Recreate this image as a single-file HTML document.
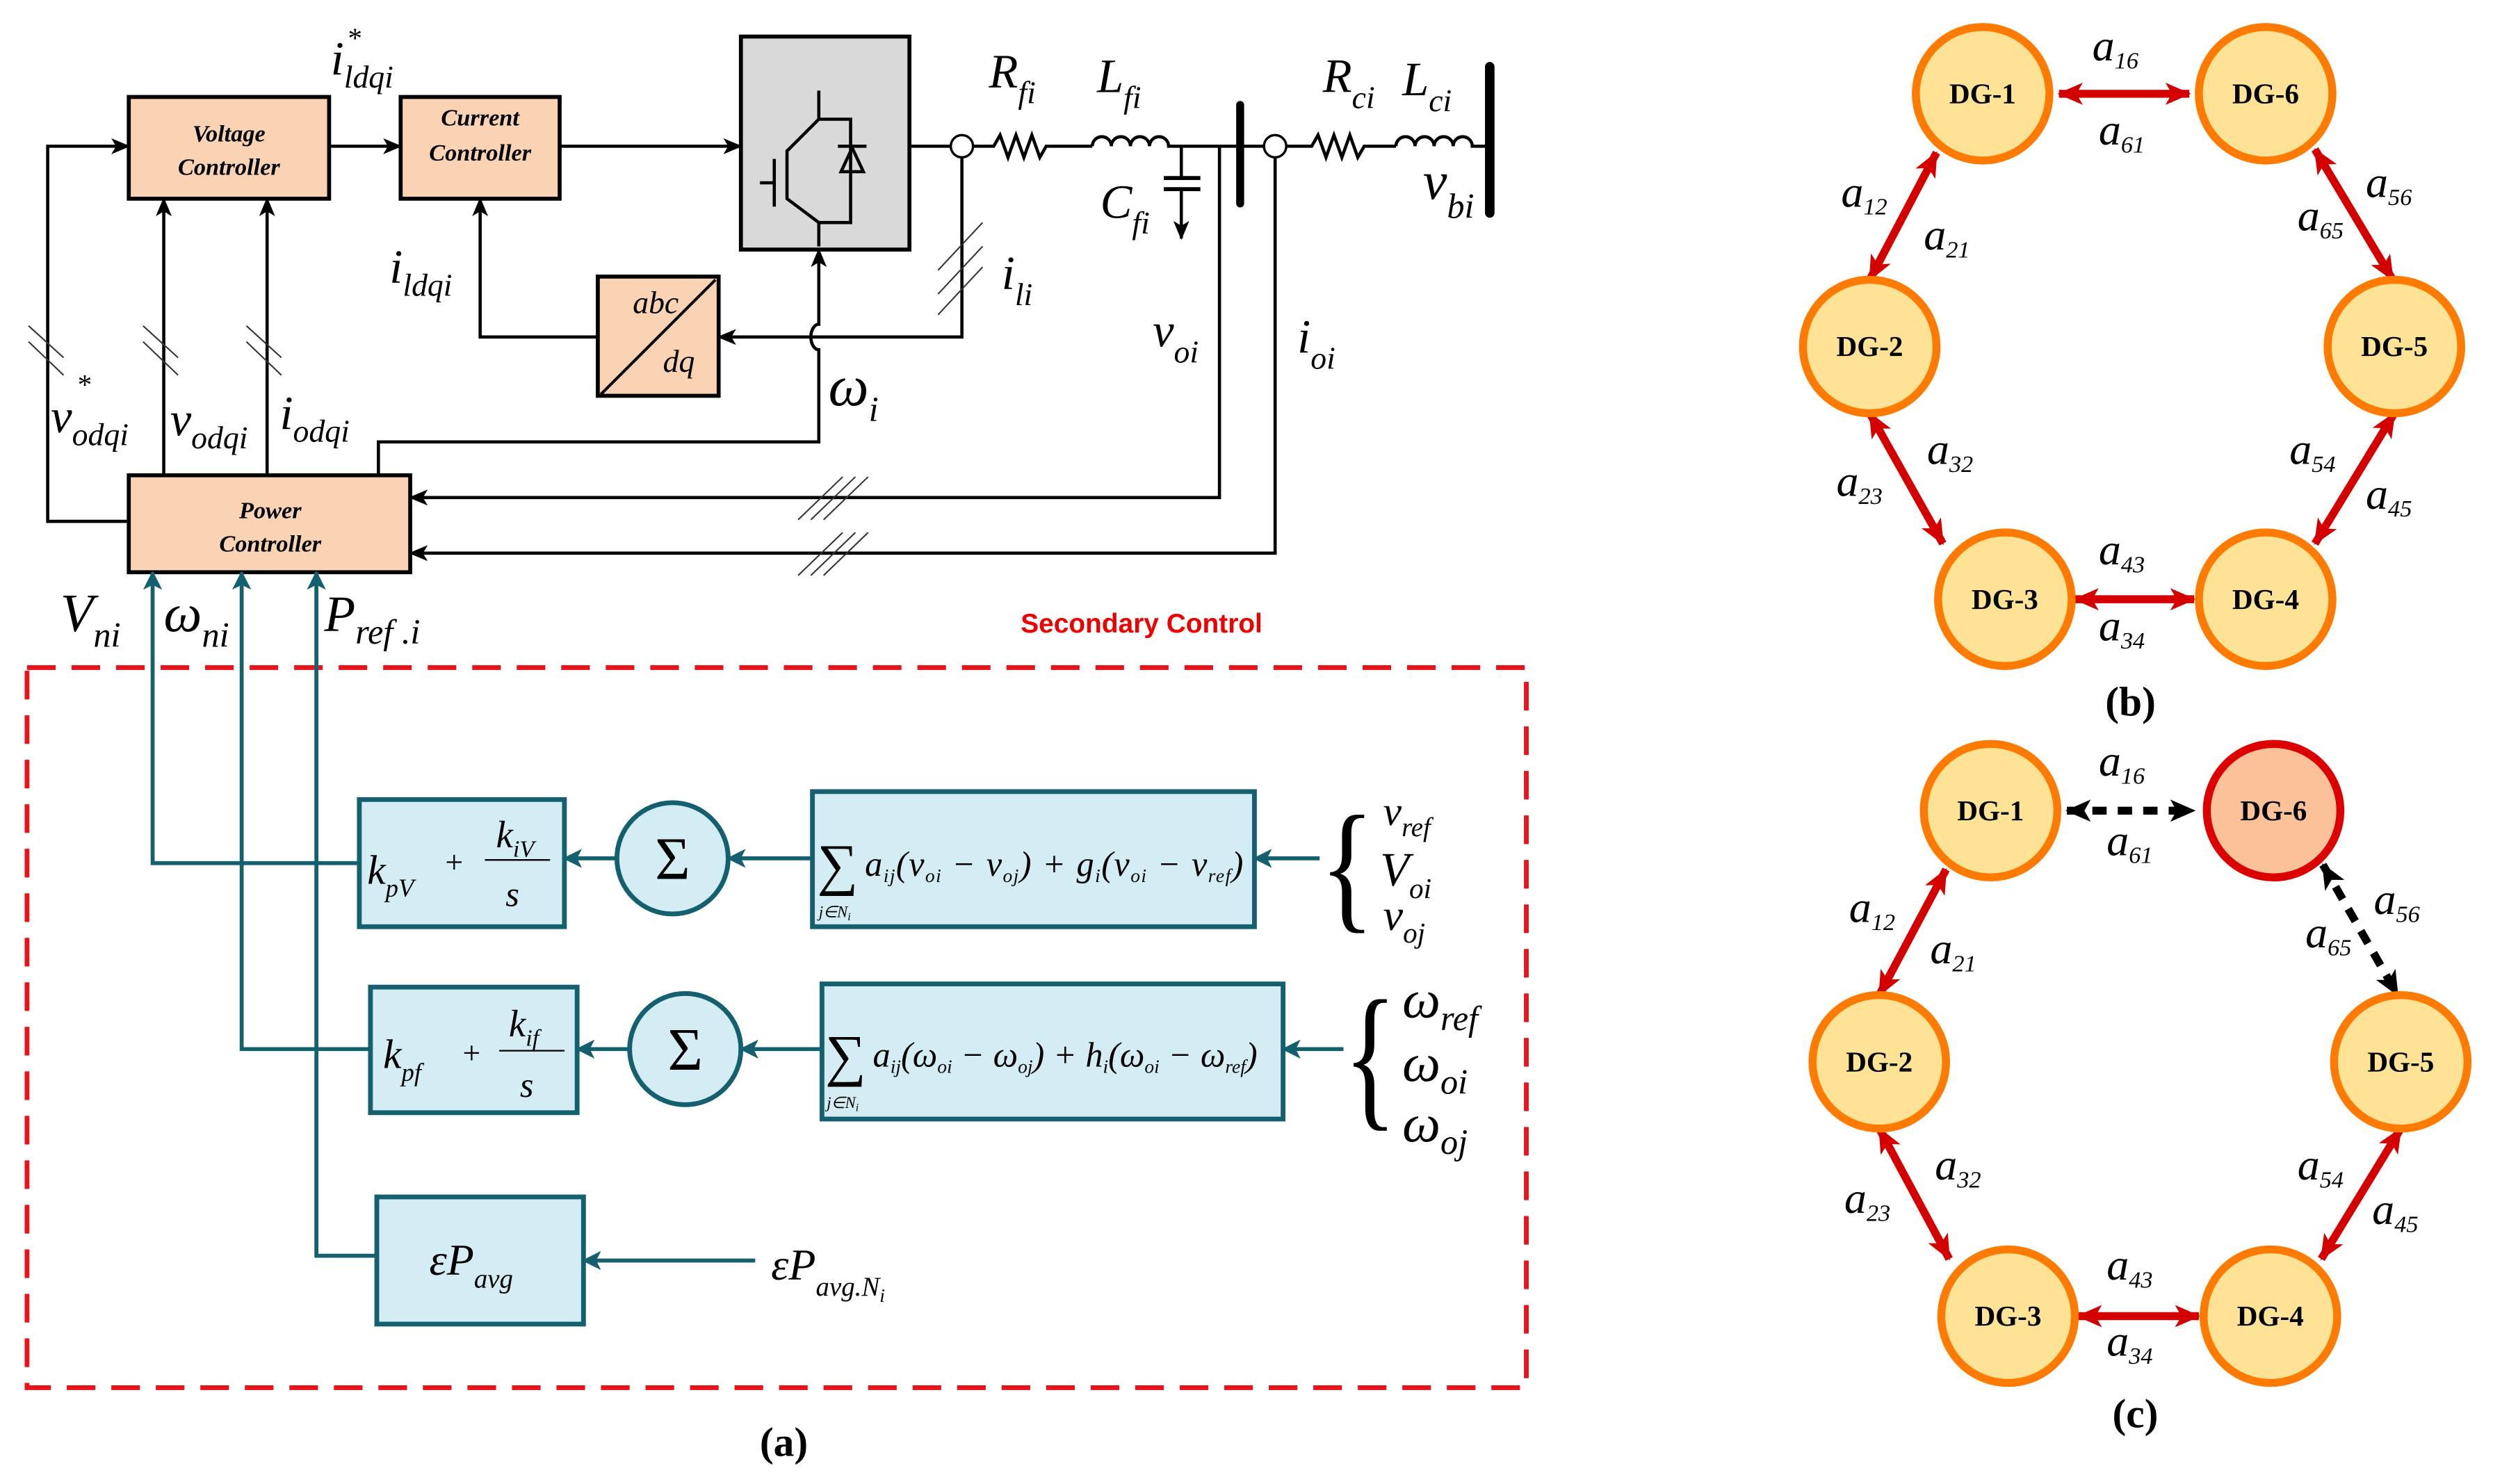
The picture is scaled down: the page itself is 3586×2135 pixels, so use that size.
<!DOCTYPE html>
<html><head><meta charset="utf-8"><style>
html,body{margin:0;padding:0;background:#fff;}
svg{display:block;}
.m{font-family:"Liberation Serif",serif;font-style:italic;}
.b{font-family:"Liberation Serif",serif;font-weight:bold;}
</style></head><body>
<svg width="3586" height="2135" viewBox="0 0 1568 933.6" preserveAspectRatio="none" xmlns="http://www.w3.org/2000/svg">
<defs>
<marker id="ak" markerUnits="userSpaceOnUse" markerWidth="12" markerHeight="10" refX="11" refY="5" orient="auto"><path d="M0,0 L12,5 L0,10 L3,5 Z" fill="#000"/></marker>
<marker id="at" markerUnits="userSpaceOnUse" markerWidth="12" markerHeight="12" refX="11" refY="6" orient="auto"><path d="M0,0 L12,6 L0,12 L3,6 Z" fill="#14606f"/></marker>
<marker id="ar" markerUnits="userSpaceOnUse" markerWidth="16" markerHeight="14" refX="15" refY="7" orient="auto"><path d="M0,0 L16,7 L0,14 L4,7 Z" fill="#d40000"/></marker>
<marker id="ars" markerUnits="userSpaceOnUse" markerWidth="16" markerHeight="14" refX="1" refY="7" orient="auto"><path d="M16,0 L0,7 L16,14 L12,7 Z" fill="#d40000"/></marker>
<marker id="abk" markerUnits="userSpaceOnUse" markerWidth="16" markerHeight="14" refX="15" refY="7" orient="auto"><path d="M0,0 L16,7 L0,14 L4,7 Z" fill="#000"/></marker>
<marker id="abks" markerUnits="userSpaceOnUse" markerWidth="16" markerHeight="14" refX="1" refY="7" orient="auto"><path d="M16,0 L0,7 L16,14 L12,7 Z" fill="#000"/></marker>
</defs>

<g stroke="#000" stroke-width="2" fill="none">
<rect x="81" y="61" width="126" height="64" fill="#fad3b4" stroke-width="2.5"/>
<rect x="252" y="61" width="100" height="64" fill="#fad3b4" stroke-width="2.5"/>
<rect x="81" y="299" width="177" height="61" fill="#fad3b4" stroke-width="2.5"/>
<rect x="466" y="23" width="106" height="134" fill="#d9d9d9" stroke-width="2.5"/>
<rect x="376" y="174" width="76" height="75" fill="#fad3b4" stroke-width="2.5"/>
<line x1="378" y1="248" x2="450" y2="176" stroke-width="1.8"/>
<path d="M515,57 V75 H535 V140 H515 M515,75 L495,95 V125 L515,140 V155" stroke-width="2"/>
<line x1="487" y1="100" x2="487" y2="130"/>
<line x1="478" y1="115" x2="487" y2="115"/>
<path d="M527,92 H545 M529,108 L536,93 L543,108 Z" stroke-width="2"/>
<line x1="207" y1="92" x2="252" y2="92" marker-end="url(#ak)"/>
<line x1="352" y1="92" x2="466" y2="92" marker-end="url(#ak)"/>
<polyline points="81,328 30,328 30,92 81,92" marker-end="url(#ak)"/>
<line x1="103" y1="299" x2="103" y2="125" marker-end="url(#ak)"/>
<line x1="168" y1="299" x2="168" y2="125" marker-end="url(#ak)"/>
<polyline points="376,212 302,212 302,125" marker-end="url(#ak)"/>
<polyline points="605,99 605,212 452,212" marker-end="url(#ak)"/>
<path d="M238,299 V278 H515 V220 A5,8 0 0 1 515,204 V157" marker-end="url(#ak)"/>
<line x1="572" y1="92" x2="598" y2="92"/>
<circle cx="605" cy="92" r="7" fill="#fff" stroke-width="1.5"/>
<polyline points="612,92 625,92 629,85 634,99 639,85 644,99 649,85 654,99 658,92 687,92" stroke-width="2"/>
<path d="M687,92 a6,6 0 0 1 12,0 a6,6 0 0 1 12,0 a6,6 0 0 1 12,0 a6,6 0 0 1 12,0 H795" stroke-width="2"/>
<line x1="743" y1="92" x2="743" y2="112"/>
<line x1="732" y1="112" x2="755" y2="112" stroke-width="2.5"/>
<line x1="732" y1="119" x2="755" y2="119" stroke-width="2.5"/>
<line x1="743" y1="119" x2="743" y2="150" marker-end="url(#ak)"/>
<line x1="780" y1="66" x2="780" y2="128" stroke-width="5" stroke-linecap="round"/>
<circle cx="802" cy="92" r="7" fill="#fff" stroke-width="1.5"/>
<polyline points="809,92 825,92 829,85 834,99 839,85 844,99 849,85 854,99 858,92 878,92" stroke-width="2"/>
<path d="M878,92 a6,6 0 0 1 12,0 a6,6 0 0 1 12,0 a6,6 0 0 1 12,0 a6,6 0 0 1 12,0 H937" stroke-width="2"/>
<line x1="937" y1="42" x2="937" y2="134" stroke-width="6" stroke-linecap="round"/>
<polyline points="767,92 767,313 258,313" marker-end="url(#ak)"/>
<polyline points="802,99 802,348 258,348" marker-end="url(#ak)"/>
</g>
<g stroke="#333" stroke-width="0.9">
<line x1="18" y1="205" x2="40" y2="225"/><line x1="18" y1="215" x2="40" y2="236"/>
<line x1="90" y1="205" x2="112" y2="225"/><line x1="90" y1="215" x2="112" y2="236"/>
<line x1="155" y1="205" x2="177" y2="225"/><line x1="155" y1="215" x2="177" y2="236"/>
<line x1="590" y1="170" x2="618" y2="140"/><line x1="590" y1="185" x2="618" y2="155"/><line x1="590" y1="198" x2="618" y2="168"/>
<line x1="502" y1="327" x2="530" y2="300"/><line x1="510" y1="327" x2="538" y2="300"/><line x1="518" y1="327" x2="546" y2="300"/>
<line x1="502" y1="362" x2="530" y2="335"/><line x1="510" y1="362" x2="538" y2="335"/><line x1="518" y1="362" x2="546" y2="335"/>
</g>
<g class="b" font-style="italic" font-size="15" text-anchor="middle" fill="#000">
<text x="144" y="89">Voltage</text><text x="144" y="110">Controller</text>
<text x="302" y="79">Current</text><text x="302" y="101">Controller</text>
<text x="170" y="326">Power</text><text x="170" y="347">Controller</text>
</g>
<g class="m" fill="#000">
<text x="398" y="197" font-size="20">abc</text>
<text x="417" y="234" font-size="20">dq</text>
<text x="208" y="47" font-size="30">i<tspan font-size="20" dy="8">ldqi</tspan></text><text x="218" y="30" font-size="18">*</text>
<text x="245" y="178" font-size="30">i<tspan font-size="20" dy="8">ldqi</tspan></text>
<text x="630" y="182" font-size="30">i<tspan font-size="20" dy="10">li</tspan></text>
<text x="725" y="218" font-size="30">v<tspan font-size="20" dy="10">oi</tspan></text>
<text x="816" y="222" font-size="30">i<tspan font-size="20" dy="10">oi</tspan></text>
<text x="521" y="255" font-size="36">ω<tspan font-size="22" dy="10">i</tspan></text>
<text x="32" y="272" font-size="30">v<tspan font-size="20" dy="8">odqi</tspan></text><text x="48" y="248" font-size="18">*</text>
<text x="107" y="274" font-size="30">v<tspan font-size="20" dy="8">odqi</tspan></text>
<text x="176" y="270" font-size="30">i<tspan font-size="20" dy="8">odqi</tspan></text>
<text x="622" y="55" font-size="30">R<tspan font-size="20" dy="10">fi</tspan></text>
<text x="690" y="58" font-size="30">L<tspan font-size="20" dy="10">fi</tspan></text>
<text x="692" y="137" font-size="30">C<tspan font-size="20" dy="10">fi</tspan></text>
<text x="832" y="58" font-size="30">R<tspan font-size="20" dy="10">ci</tspan></text>
<text x="882" y="60" font-size="30">L<tspan font-size="20" dy="10">ci</tspan></text>
<text x="895" y="125" font-size="34">v<tspan font-size="22" dy="12">bi</tspan></text>
<text x="38" y="397" font-size="34">V<tspan font-size="22" dy="10">ni</tspan></text>
<text x="103" y="397" font-size="34">ω<tspan font-size="22" dy="10">ni</tspan></text>
<text x="204" y="397" font-size="32">P<tspan font-size="22" dy="8">ref .i</tspan></text>
</g>

<text x="718" y="398" font-family="Liberation Sans,sans-serif" font-weight="bold" font-size="17" fill="#e00" text-anchor="middle">Secondary Control</text>
<rect x="17" y="420" width="943" height="453" fill="none" stroke="#e8141c" stroke-width="3" stroke-dasharray="18,10"/>
<g stroke="#14606f" fill="#d4edf4" stroke-width="3">
<rect x="226" y="503" width="129" height="80"/>
<rect x="511" y="498" width="278" height="85"/>
<circle cx="423" cy="540" r="35"/>
<rect x="233" y="621" width="130" height="79"/>
<rect x="517" y="619" width="290" height="85"/>
<circle cx="431" cy="660" r="35"/>
<rect x="237" y="753" width="130" height="80"/>
</g>
<g stroke="#14606f" stroke-width="2.5" fill="none">
<polyline points="226,543 96,543 96,360" marker-end="url(#at)"/>
<polyline points="233,660 152,660 152,360" marker-end="url(#at)"/>
<polyline points="237,790 199,790 199,360" marker-end="url(#at)"/>
<line x1="388" y1="540" x2="355" y2="540" marker-end="url(#at)"/>
<line x1="511" y1="540" x2="458" y2="540" marker-end="url(#at)"/>
<line x1="830" y1="540" x2="789" y2="540" marker-end="url(#at)"/>
<line x1="396" y1="660" x2="363" y2="660" marker-end="url(#at)"/>
<line x1="517" y1="660" x2="466" y2="660" marker-end="url(#at)"/>
<line x1="845" y1="660" x2="807" y2="660" marker-end="url(#at)"/>
<line x1="475" y1="793" x2="367" y2="793" marker-end="url(#at)"/>
</g>
<g class="m" fill="#000">
<text x="231" y="556" font-size="26">k<tspan font-size="16" dy="8">pV</tspan></text>
<text x="280" y="549" font-size="20" font-style="normal">+</text>
<text x="312" y="533" font-size="24">k<tspan font-size="15" dy="6">iV</tspan></text>
<line x1="305" y1="541" x2="346" y2="541" stroke="#000" stroke-width="1"/>
<text x="318" y="570" font-size="22">s</text>
<text x="241" y="672" font-size="26">k<tspan font-size="16" dy="8">pf</tspan></text>
<text x="291" y="669" font-size="20" font-style="normal">+</text>
<text x="320" y="652" font-size="24">k<tspan font-size="15" dy="6">if</tspan></text>
<line x1="314" y1="661" x2="355" y2="661" stroke="#000" stroke-width="1"/>
<text x="327" y="690" font-size="22">s</text>
<text x="423" y="553" font-size="38" font-style="normal" text-anchor="middle">Σ</text>
<text x="431" y="673" font-size="38" font-style="normal" text-anchor="middle">Σ</text>
<text x="514" y="556" font-size="36" font-style="normal">∑</text>
<text x="515" y="577" font-size="10">j∈N<tspan font-size="7" dy="2">i</tspan></text>
<text x="544" y="551" font-size="22" textLength="238">a<tspan font-size="12" dy="4">ij</tspan><tspan dy="-4">(v</tspan><tspan font-size="12" dy="4">oi</tspan><tspan dy="-4"> − v</tspan><tspan font-size="12" dy="4">oj</tspan><tspan dy="-4">) + g</tspan><tspan font-size="12" dy="4">i</tspan><tspan dy="-4">(v</tspan><tspan font-size="12" dy="4">oi</tspan><tspan dy="-4"> − v</tspan><tspan font-size="12" dy="4">ref</tspan><tspan dy="-4">)</tspan></text>
<text x="519" y="676" font-size="36" font-style="normal">∑</text>
<text x="520" y="697" font-size="10">j∈N<tspan font-size="7" dy="2">i</tspan></text>
<text x="549" y="671" font-size="22">a<tspan font-size="12" dy="4">ij</tspan><tspan dy="-4">(ω</tspan><tspan font-size="12" dy="4">oi</tspan><tspan dy="-4"> − ω</tspan><tspan font-size="12" dy="4">oj</tspan><tspan dy="-4">) + h</tspan><tspan font-size="12" dy="4">i</tspan><tspan dy="-4">(ω</tspan><tspan font-size="12" dy="4">oi</tspan><tspan dy="-4"> − ω</tspan><tspan font-size="12" dy="4">ref</tspan><tspan dy="-4">)</tspan></text>
<text x="270" y="802" font-size="28">εP<tspan font-size="17" dy="8">avg</tspan></text>
<text x="485" y="805" font-size="28">εP<tspan font-size="17" dy="10">avg.N</tspan><tspan font-size="12" dy="4">i</tspan></text>
<text x="830" y="575" font-size="90" font-style="normal" transform="translate(830,575) scale(0.8,1) translate(-830,-575)">{</text>
<text x="870" y="519" font-size="26">v<tspan font-size="17" dy="7">ref</tspan></text>
<text x="868" y="557" font-size="30">V<tspan font-size="18" dy="8">oi</tspan></text>
<text x="870" y="585" font-size="28">v<tspan font-size="18" dy="8">oj</tspan></text>
<text x="845" y="698" font-size="100" font-style="normal" transform="translate(845,698) scale(0.7,1) translate(-845,-698)">{</text>
<text x="882" y="640" font-size="34">ω<tspan font-size="22" dy="8">ref</tspan></text>
<text x="882" y="680" font-size="34">ω<tspan font-size="22" dy="8">oi</tspan></text>
<text x="882" y="718" font-size="34">ω<tspan font-size="22" dy="8">oj</tspan></text>
</g>
<text x="493" y="916" font-family="Liberation Serif,serif" font-weight="bold" font-size="26" text-anchor="middle">(a)</text>

<g stroke-width="5" fill="none">
<line x1="1295" y1="59" x2="1377" y2="59" stroke="#d40000" marker-end="url(#ar)" marker-start="url(#ars)"/>
<line x1="1218" y1="96" x2="1176" y2="176" stroke="#d40000" marker-end="url(#ar)" marker-start="url(#ars)"/>
<line x1="1456" y1="94" x2="1505" y2="176" stroke="#d40000" marker-end="url(#ar)" marker-start="url(#ars)"/>
<line x1="1176" y1="260" x2="1222" y2="342" stroke="#d40000" marker-end="url(#ar)" marker-start="url(#ars)"/>
<line x1="1506" y1="260" x2="1456" y2="342" stroke="#d40000" marker-end="url(#ar)" marker-start="url(#ars)"/>
<line x1="1305" y1="377" x2="1380" y2="377" stroke="#d40000" marker-end="url(#ar)" marker-start="url(#ars)"/>
<line x1="1300" y1="510" x2="1380" y2="510" stroke="#000" stroke-dasharray="9,7" marker-end="url(#abk)" marker-start="url(#abks)"/>
<line x1="1224" y1="547" x2="1182" y2="626" stroke="#d40000" marker-end="url(#ar)" marker-start="url(#ars)"/>
<line x1="1461" y1="544" x2="1508" y2="626" stroke="#000" stroke-dasharray="9,7" marker-end="url(#abk)" marker-start="url(#abks)"/>
<line x1="1182" y1="710" x2="1226" y2="792" stroke="#d40000" marker-end="url(#ar)" marker-start="url(#ars)"/>
<line x1="1510" y1="710" x2="1460" y2="792" stroke="#d40000" marker-end="url(#ar)" marker-start="url(#ars)"/>
<line x1="1307" y1="828" x2="1383" y2="828" stroke="#d40000" marker-end="url(#ar)" marker-start="url(#ars)"/>
</g>
<g stroke="#ff7a00" stroke-width="5" fill="#fee397">
<circle cx="1247" cy="59" r="42"/><circle cx="1425" cy="59" r="42"/>
<circle cx="1176" cy="218" r="42"/><circle cx="1506" cy="218" r="42"/>
<circle cx="1261" cy="377" r="42"/><circle cx="1425" cy="377" r="42"/>
<circle cx="1252" cy="510" r="42"/>
<circle cx="1182" cy="668" r="42"/><circle cx="1510" cy="668" r="42"/>
<circle cx="1263" cy="828" r="42"/><circle cx="1428" cy="828" r="42"/>
<circle cx="1430" cy="510" r="42" fill="#fbc29a" stroke="#dc0000"/>
</g>
<g class="b" font-size="18" text-anchor="middle" fill="#000">
<text x="1247" y="65">DG-1</text><text x="1425" y="65">DG-6</text>
<text x="1176" y="224">DG-2</text><text x="1506" y="224">DG-5</text>
<text x="1261" y="383">DG-3</text><text x="1425" y="383">DG-4</text>
<text x="1252" y="516">DG-1</text><text x="1430" y="516">DG-6</text>
<text x="1182" y="674">DG-2</text><text x="1510" y="674">DG-5</text>
<text x="1263" y="834">DG-3</text><text x="1428" y="834">DG-4</text>
</g>
<text x="1340" y="450" font-family="Liberation Serif,serif" font-weight="bold" font-size="26" text-anchor="middle">(b)</text>
<text x="1343" y="898" font-family="Liberation Serif,serif" font-weight="bold" font-size="26" text-anchor="middle">(c)</text>
<g class="m" font-size="28" fill="#000">
<text x="1316" y="38">a<tspan font-size="15" dy="5">16</tspan></text>
<text x="1320" y="91">a<tspan font-size="15" dy="5">61</tspan></text>
<text x="1158" y="130">a<tspan font-size="15" dy="5">12</tspan></text>
<text x="1210" y="157">a<tspan font-size="15" dy="5">21</tspan></text>
<text x="1488" y="124">a<tspan font-size="15" dy="5">56</tspan></text>
<text x="1445" y="145">a<tspan font-size="15" dy="5">65</tspan></text>
<text x="1212" y="292">a<tspan font-size="15" dy="5">32</tspan></text>
<text x="1155" y="312">a<tspan font-size="15" dy="5">23</tspan></text>
<text x="1440" y="292">a<tspan font-size="15" dy="5">54</tspan></text>
<text x="1488" y="320">a<tspan font-size="15" dy="5">45</tspan></text>
<text x="1320" y="355">a<tspan font-size="15" dy="5">43</tspan></text>
<text x="1320" y="403">a<tspan font-size="15" dy="5">34</tspan></text>
<text x="1320" y="488">a<tspan font-size="15" dy="5">16</tspan></text>
<text x="1325" y="538">a<tspan font-size="15" dy="5">61</tspan></text>
<text x="1163" y="580">a<tspan font-size="15" dy="5">12</tspan></text>
<text x="1214" y="606">a<tspan font-size="15" dy="5">21</tspan></text>
<text x="1493" y="575">a<tspan font-size="15" dy="5">56</tspan></text>
<text x="1450" y="596">a<tspan font-size="15" dy="5">65</tspan></text>
<text x="1217" y="742">a<tspan font-size="15" dy="5">32</tspan></text>
<text x="1160" y="763">a<tspan font-size="15" dy="5">23</tspan></text>
<text x="1445" y="742">a<tspan font-size="15" dy="5">54</tspan></text>
<text x="1492" y="770">a<tspan font-size="15" dy="5">45</tspan></text>
<text x="1325" y="805">a<tspan font-size="15" dy="5">43</tspan></text>
<text x="1325" y="853">a<tspan font-size="15" dy="5">34</tspan></text>
</g>
</svg>
</body></html>
